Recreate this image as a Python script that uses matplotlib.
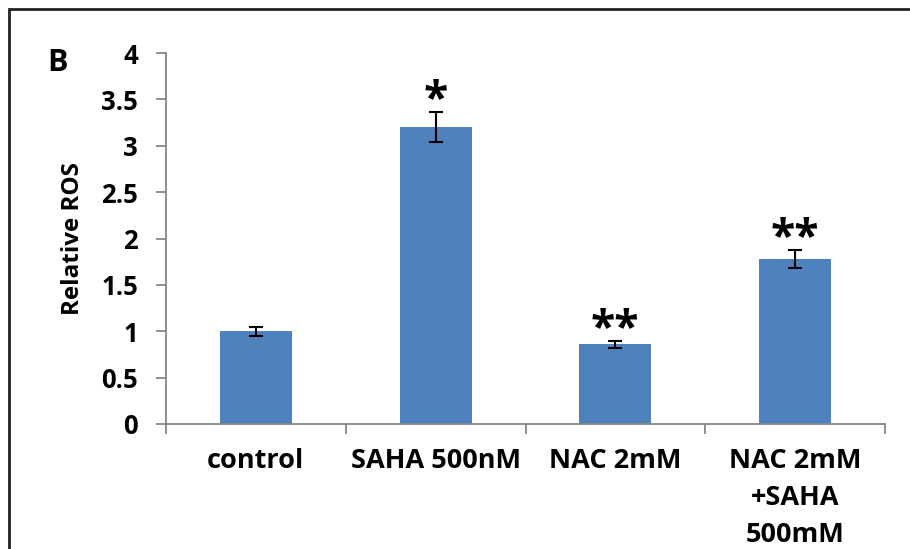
import matplotlib.pyplot as plt
from matplotlib.patches import Rectangle
import numpy as np

plt.rcParams['font.family'] = ['Open Sans', 'DejaVu Sans']
plt.rcParams['font.weight'] = 'bold'

# data
groups = ['control', 'SAHA 500nM', 'NAC 2mM', 'NAC 2mM\n+SAHA\n500mM']
ros = [1.00, 3.20, 0.86, 1.78]
ros_err = [0.05, 0.16, 0.04, 0.10]
stars = ['', '*', '**', '**']

bar_color = '#4F81BD'
axis_color = '#868686'

fig = plt.figure(figsize=(9.10, 5.49), dpi=100)
ax = fig.add_axes([166 / 910, 1 - 424 / 549, (885 - 166) / 910, (424 - 53) / 549])

x = np.arange(len(groups))
ax.bar(x, ros, width=0.4, color=bar_color, zorder=2)
ax.errorbar(x, ros, yerr=ros_err, fmt='none', ecolor='black', elinewidth=1.5,
            capsize=5, capthick=1.5, zorder=3)

for xi, m, e, s in zip(x, ros, ros_err, stars):
    if s:
        ax.annotate(s, xy=(xi, m + e), xytext=(0, -8), textcoords='offset points',
                    ha='center', va='bottom', fontsize=32, fontweight='bold')

ax.set_xlim(-0.5, len(groups) - 0.5)
ax.set_ylim(0, 4)
ax.set_yticks(np.arange(0, 4.01, 0.5))
ax.set_yticklabels(['0', '0.5', '1', '1.5', '2', '2.5', '3', '3.5', '4'])
ax.set_xticks(np.arange(-0.5, len(groups), 1.0))
ax.set_xticklabels([])
ax.set_xticks(x, minor=True)
ax.set_xticklabels(groups, minor=True, fontsize=19.5, fontweight='bold', linespacing=1.57)
ax.tick_params(axis='x', which='minor', length=0, pad=17)
ax.tick_params(axis='x', which='major', length=7, color=axis_color, width=1.3, direction='out')
ax.tick_params(axis='y', length=7, color=axis_color, width=1.3, direction='out',
               labelsize=18.5, pad=13)
for lab in ax.get_yticklabels():
    lab.set_fontweight('bold')

for side in ['top', 'right']:
    ax.spines[side].set_visible(False)
for side in ['left', 'bottom']:
    ax.spines[side].set_color(axis_color)
    ax.spines[side].set_linewidth(1.3)

ax.set_ylabel('Relative ROS', fontsize=17.5, fontweight='bold', labelpad=12)
fig.text(58 / 910, 1 - 63 / 549, 'B', fontsize=22, fontweight='bold', ha='center', va='center')

# outer frame (right and bottom edges fall outside the image)
fig.patches.append(Rectangle((9 / 910, -0.1), 1.1, 1 - 9 / 549 + 0.1, transform=fig.transFigure,
                             fill=False, edgecolor='#222222', linewidth=2))

fig.savefig('out.png', dpi=100)
